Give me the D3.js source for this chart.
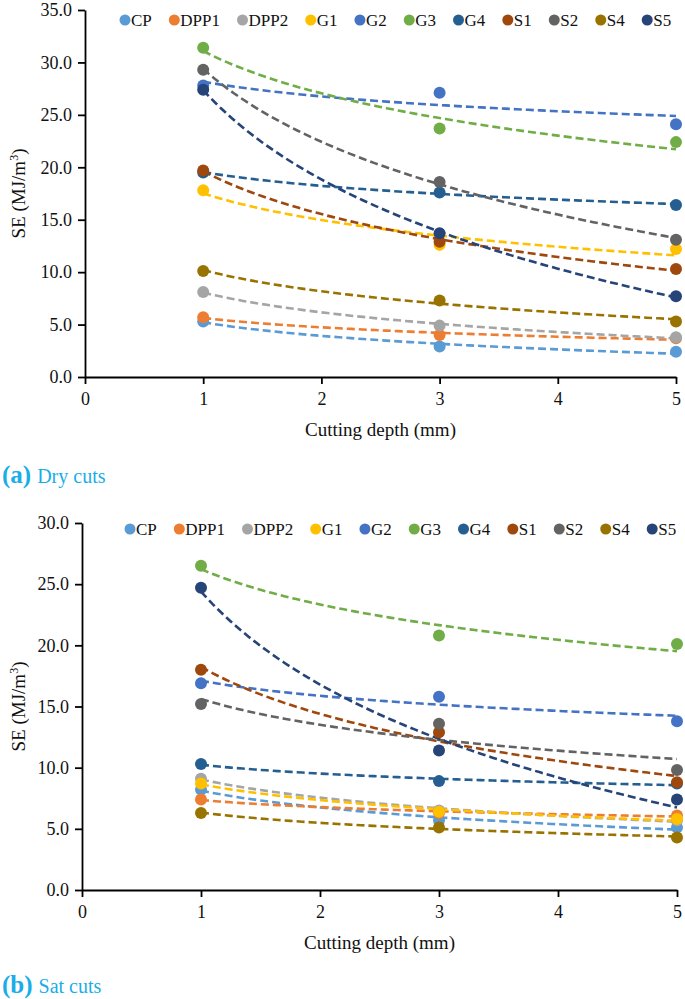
<!DOCTYPE html>
<html>
<head>
<meta charset="utf-8">
<script src="https://cdn.jsdelivr.net/npm/d3@7"></script>
<style>
  body { margin: 0; background: #fff; }
  svg { display: block; font-family: "Liberation Serif", "Times New Roman", serif; }
</style>
</head>
<body>
<svg id="chart" width="685" height="999"></svg>
<script>
var depths = [1, 3, 5];
var seriesNames = ['CP', 'DPP1', 'DPP2', 'G1', 'G2', 'G3', 'G4', 'S1', 'S2', 'S4', 'S5'];
var seriesColors = ['#5B9BD5', '#ED7D31', '#A5A5A5', '#FFC000', '#4472C4', '#70AD47',
  '#255E91', '#9E480E', '#636363', '#997300', '#264478'];

// (a) dry cuts, SE in MJ/m3 at depth 1, 3, 5 mm
var dryCP   = [5.3, 2.9, 2.4];
var dryDPP1 = [5.7, 4.0, 3.7];
var dryDPP2 = [8.1, 4.9, 3.8];
var dryG1   = [17.8, 12.6, 12.2];
var dryG2   = [27.8, 27.1, 24.1];
var dryG3   = [31.4, 23.7, 22.4];
var dryG4   = [19.5, 17.6, 16.4];
var dryS1   = [19.7, 12.9, 10.3];
var dryS2   = [29.3, 18.6, 13.1];
var dryS4   = [10.1, 7.3, 5.3];
var dryS5   = [27.4, 13.7, 7.7];

// (b) saturated cuts
var satCP   = [8.2, 5.7, 5.1];
var satDPP1 = [7.4, 6.3, 6.1];
var satDPP2 = [9.1, 6.5, 5.7];
var satG1   = [8.7, 6.4, 5.8];
var satG2   = [16.9, 15.8, 13.8];
var satG3   = [26.5, 20.8, 20.1];
var satG4   = [10.3, 8.9, 8.7];
var satS1   = [18.0, 12.9, 8.8];
var satS2   = [15.2, 13.6, 9.8];
var satS4   = [6.3, 5.1, 4.3];
var satS5   = [24.7, 11.4, 7.4];

var dryValues = [dryCP, dryDPP1, dryDPP2, dryG1, dryG2, dryG3, dryG4, dryS1, dryS2, dryS4, dryS5];
var satValues = [satCP, satDPP1, satDPP2, satG1, satG2, satG3, satG4, satS1, satS2, satS4, satS5];

var xTicks = [0, 1, 2, 3, 4, 5];

var svg = d3.select('#chart');

// logarithmic trendline y = a + b*ln(x), least squares
function logFit(xs, ys) {
  var lx = xs.map(Math.log);
  var mx = d3.mean(lx), my = d3.mean(ys);
  var sxy = d3.sum(lx, function(v, i) { return (v - mx) * (ys[i] - my); });
  var sxx = d3.sum(lx, function(v) { return (v - mx) * (v - mx); });
  var b = sxy / sxx;
  var a = my - b * mx;
  return function(x) { return a + b * Math.log(x); };
}

function drawPanel(opts) {
  var g = svg.append('g');
  var x = d3.scaleLinear().domain([0, 5]).range([opts.left, opts.right]);
  var y = d3.scaleLinear().domain([0, opts.yMax]).range([opts.bottom, opts.top]);

  var yAxis = g.append('g')
    .attr('transform', 'translate(' + opts.left + ',0)')
    .call(d3.axisLeft(y).tickValues(d3.range(0, opts.yMax + 0.01, 5))
      .tickFormat(d3.format('.1f')).tickSizeInner(7).tickSizeOuter(0).tickPadding(6));
  var xAxis = g.append('g')
    .attr('transform', 'translate(0,' + opts.bottom + ')')
    .call(d3.axisBottom(x).tickValues(xTicks).tickFormat(d3.format('d'))
      .tickSizeInner(7).tickSizeOuter(0).tickPadding(8));
  [yAxis, xAxis].forEach(function(ax) {
    ax.attr('font-family', null);
    ax.selectAll('path, line').attr('stroke', '#000').attr('stroke-width', 1.8);
    ax.selectAll('text').attr('font-size', 18).attr('fill', '#111');
  });

  g.append('text')
    .attr('transform', 'translate(18,' + ((opts.top + opts.bottom) / 2) + ') rotate(-90)')
    .attr('text-anchor', 'middle').attr('dy', '0.35em')
    .attr('font-size', 19).attr('fill', '#111')
    .html('SE (MJ/m<tspan dy="-7" font-size="12">3</tspan><tspan dy="7">)</tspan>');

  g.append('text')
    .attr('x', (opts.left + opts.right) / 2).attr('y', opts.bottom + 59)
    .attr('text-anchor', 'middle').attr('font-size', 19).attr('fill', '#111')
    .text('Cutting depth (mm)');

  var line = d3.line().x(function(d) { return x(d[0]); }).y(function(d) { return y(d[1]); });
  var samples = d3.range(1, 5.001, 0.05);

  opts.values.forEach(function(vals, i) {
    var f = logFit(depths, vals);
    g.append('path')
      .datum(samples.map(function(s) { return [s, f(s)]; }))
      .attr('d', line)
      .attr('fill', 'none')
      .attr('stroke', seriesColors[i])
      .attr('stroke-width', 2.6)
      .attr('stroke-dasharray', '8,4');
  });

  opts.values.forEach(function(vals, i) {
    g.selectAll(null).data(vals).enter().append('circle')
      .attr('cx', function(d, j) { return x(depths[j]); })
      .attr('cy', function(d) { return y(d); })
      .attr('r', 6)
      .attr('fill', seriesColors[i]);
  });

  // legend, laid out from the text widths
  var lx = opts.legendX;
  seriesNames.forEach(function(name, i) {
    var item = g.append('g');
    item.append('circle').attr('cx', lx).attr('cy', opts.legendY).attr('r', 5.5).attr('fill', seriesColors[i]);
    var t = item.append('text').attr('x', lx + 6).attr('y', opts.legendY).attr('dy', '0.35em')
      .attr('font-size', 17).attr('fill', '#111').text(name);
    lx += 6 + t.node().getComputedTextLength() + 22.5;
  });

  // caption
  var cap = g.append('text').attr('x', 2).attr('y', opts.captionY).attr('fill', '#1AADE8');
  cap.append('tspan').attr('font-weight', 'bold').attr('font-size', 25).text(opts.letter);
  cap.append('tspan').attr('font-size', 20).attr('dx', 6).text(opts.caption);
}

drawPanel({
  left: 85, right: 676, top: 10, bottom: 377, yMax: 35,
  values: dryValues, legendX: 125, legendY: 20,
  captionY: 483, letter: '(a)', caption: 'Dry cuts'
});

drawPanel({
  left: 82, right: 677, top: 523, bottom: 890, yMax: 30,
  values: satValues, legendX: 130, legendY: 529,
  captionY: 993, letter: '(b)', caption: 'Sat cuts'
});
</script>
</body>
</html>
